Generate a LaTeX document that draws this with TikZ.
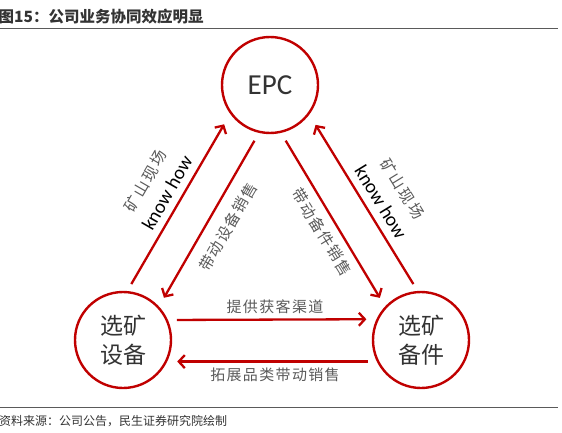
\documentclass[tikz,border=0pt]{standalone}
\usepackage{fontspec}
\setmainfont{Noto Sans CJK SC}
\newfontfamily\latinf{Carlito}
\newfontfamily\cjkls[LetterSpace=9]{Noto Sans CJK SC}
\newfontfamily\cjklw[LetterSpace=13]{Noto Sans CJK SC}
\usetikzlibrary{arrows.meta}
\definecolor{cred}{HTML}{C00000}
\definecolor{lgray}{HTML}{5A5A5A}
\definecolor{dgray}{HTML}{333333}
\begin{document}
\begin{tikzpicture}[x=1pt,y=-1pt,
  circ/.style={circle,draw=cred,line width=2.4pt,minimum size=96pt,inner sep=0pt,align=center,text=dgray},
  conn/.style={draw=cred,line width=2.3pt,-{Straight Barb[length=6pt,width=13pt]},shorten <=9pt,shorten >=10pt},
  lab/.style={text=lgray,inner sep=0pt,font=\cjkls\fontsize{15}{15}\selectfont},
  dlab/.style={text=lgray,inner sep=0pt,font=\cjkls\fontsize{15.3}{15.3}\selectfont},
  slab/.style={text=lgray,inner sep=0pt,font=\cjklw\fontsize{15.5}{15.5}\selectfont},
  kh/.style={text=black,inner sep=0pt,font=\latinf\fontsize{19.5}{19.5}\selectfont},
  rule/.style={draw=lgray,line width=1.2pt}]
\useasboundingbox (0,0) rectangle (562,433);
\clip (0,0) rectangle (562,433);
% title and source
\node[anchor=base west,inner sep=0pt,text=dgray,font=\bfseries\fontsize{15.5}{15.5}\selectfont] (title) at (-1.5,22.5) {图15：公司业务协同效应明显};
\draw[rule] (0,28.5) -- (558,28.5);
\draw[rule] (0,407.5) -- (558,407.5);
\node[anchor=base west,inner sep=0pt,text=dgray,font=\fontsize{12}{12}\selectfont] (src) at (-1,425) {资料来源：公司公告，民生证券研究院绘制};
% circles
\node[circ,font=\latinf\fontsize{29}{29}\selectfont] (epc) at (270,85) {EPC};
\node[circ,font=\fontsize{23}{29}\selectfont] (equip) at (123,340) {选矿\\设备};
\node[circ,font=\fontsize{23}{29}\selectfont] (parts) at (421,340) {选矿\\备件};
% connectors
\draw[conn,shorten <=8pt,shorten >=12pt] (equip.85) -- (epc.216.7);
\draw[conn] (epc.257) -- (equip.43.6);
\draw[conn] (epc.283) -- (parts.137);
\draw[conn,shorten <=8pt,shorten >=12pt] (parts.94) -- (epc.323.5);
\draw[conn] (equip.24.8) -- (parts.155.2);
\draw[conn] (parts.206) -- (equip.334);
% labels
\node[lab] (l1) at (275,306.5) {提供获客渠道};
\node[lab] (l2) at (275,375) {拓展品类带动销售};
\node[slab,rotate=60] (l3) at (145.5,181) {矿山现场};
\node[kh,rotate=60] (l4) at (167,193) {know how};
\node[dlab,rotate=60] (l5) at (228,227) {带动设备销售};
\node[dlab,rotate=-58.5] (l6) at (322,232) {带动备件销售};
\node[kh,rotate=-58.5] (l7) at (381,202) {know how};
\node[slab,rotate=-58.5] (l8) at (402.5,189) {矿山现场};
\end{tikzpicture}
\end{document}
